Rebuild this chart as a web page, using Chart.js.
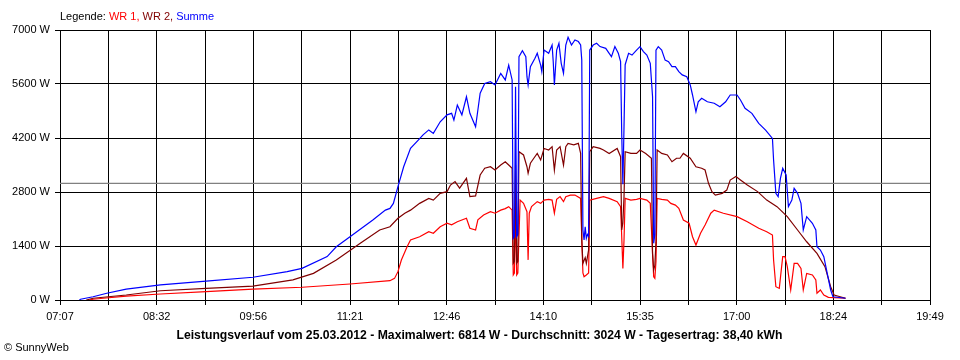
<!DOCTYPE html>
<html>
<head>
<meta charset="utf-8">
<script src="https://cdn.jsdelivr.net/npm/chart.js@4.4.0/dist/chart.umd.min.js"></script>
<style>
html,body{margin:0;padding:0;background:#fff;}
#wrap{width:960px;height:360px;position:relative;}
</style>
</head>
<body>
<div id="wrap"><canvas id="c" width="960" height="360"></canvas></div>
<script>
// ---- texts ----
const legendTitle = 'Legende: ';
const seriesNames = ['WR 1', 'WR 2', 'Summe'];
const chartTitle = 'Leistungsverlauf vom 25.03.2012 - Maximalwert: 6814 W - Durchschnitt: 3024 W - Tagesertrag: 38,40 kWh';
const copyrightText = '\u00A9 SunnyWeb';

// ---- axes ----
const xStart = '07:07';
const xEnd = '19:49';
const xGridCount = 18;           // grid lines, every second one labelled
const yTicks = [0, 1400, 2800, 4200, 5600, 7000];
const averageW = 3024;

// ---- Summe ----
const sumTimes = ['07:24','07:25','07:36','07:48','08:05','08:35','09:15','09:56','10:26','10:39','11:01','11:09','11:21','11:41','11:52','11:56','11:59','12:03','12:08','12:14','12:21','12:25','12:30','12:34','12:40','12:46','12:50','12:52','12:55','12:59','13:03','13:06','13:11','13:13','13:15','13:19','13:24','13:28','13:33','13:37','13:40','13:43','13:44','13:45','13:46','13:47','13:48','13:49','13:52','13:55','13:56','13:57','13:59','14:03','14:05','14:08','14:09','14:11','14:15','14:18','14:19','14:20','14:22','14:24','14:26','14:28','14:30','14:32','14:35','14:38','14:41','14:43','14:44','14:45','14:46','14:47','14:48','14:49','14:50','14:51','14:54','14:57','15:00','15:05','15:08','15:10','15:13','15:16','15:18','15:19','15:20','15:21','15:22','15:25','15:28','15:32','15:35','15:38','15:41','15:44','15:46','15:47','15:48','15:49','15:51','15:54','15:57','16:00','16:03','16:06','16:09','16:12','16:16','16:19','16:21','16:24','16:26','16:29','16:34','16:40','16:45','16:50','16:54','17:00','17:03','17:07','17:13','17:19','17:25','17:31','17:32','17:34','17:36','17:38','17:40','17:43','17:45','17:48','17:50','17:53','17:56','17:58','18:01','18:06','18:09','18:10','18:13','18:16','18:19','18:22','18:24','18:35'];
const sumWatts = [0,20,85,175,280,390,490,590,735,820,1125,1380,1640,2075,2330,2375,2505,2940,3455,3930,4150,4280,4410,4320,4620,4800,4840,4665,5055,4800,5270,4840,4490,4925,5360,5615,5660,5575,5875,5705,6090,5705,1600,1650,5530,1640,1700,6310,6465,6310,5790,5575,6050,6265,6395,6090,5920,6480,6395,6610,6180,5575,6480,6655,6135,5875,6610,6814,6610,6740,6700,6610,6220,1815,1555,1900,1600,1700,1650,6480,6610,6655,6570,6525,6395,6310,6570,6395,6180,4300,3000,4500,6100,6395,6350,6480,6570,6440,6350,6135,5270,1470,1700,6480,6570,6480,6220,6180,6050,6050,5920,5835,5790,5575,5315,4880,5140,5230,5140,5100,5010,5140,5315,5315,5185,4970,4840,4580,4405,4190,3630,2765,2680,3155,3415,3240,2420,2590,2895,2765,2505,1815,2160,1990,1815,1380,1295,1125,690,260,85,45];

// ---- WR 2 ----
const wr2Times = ['07:30','07:36','08:05','08:35','09:15','09:56','10:31','10:49','11:09','11:30','11:47','11:56','12:03','12:09','12:14','12:22','12:30','12:34','12:40','12:46','12:49','12:53','12:57','13:03','13:06','13:11','13:15','13:19','13:24','13:28','13:33','13:37','13:40','13:43','13:44','13:45','13:46','13:47','13:48','13:49','13:53','13:56','13:57','13:59','14:02','14:05','14:08','14:11','14:15','14:18','14:20','14:22','14:25','14:28','14:30','14:32','14:37','14:41','14:43','14:44','14:45','14:47','14:48','14:50','14:51','14:54','15:00','15:03','15:08','15:15','15:18','15:19','15:20','15:21','15:22','15:27','15:32','15:35','15:40','15:45','15:46','15:47','15:48','15:49','15:50','15:54','15:59','16:03','16:07','16:10','16:13','16:19','16:24','16:29','16:32','16:35','16:38','16:41','16:47','16:51','16:54','16:59','17:03','17:09','17:18','17:26','17:35','17:44','17:53','18:01','18:10','18:17','18:22','18:25','18:35'];
const wr2Watts = [0,45,130,240,300,360,520,690,1035,1470,1815,1900,2120,2250,2330,2505,2635,2590,2765,2810,2980,3070,2900,3155,2680,2700,3240,3415,3455,3370,3500,3585,3500,3415,950,1000,3500,950,1000,3845,3760,3455,3285,3545,3675,3800,3630,3930,3890,3975,3370,3890,3975,3500,3975,4060,4020,4060,3800,1555,950,1100,950,1300,3845,3975,3930,3890,3800,3930,3715,1815,2000,2680,3845,3800,3800,3890,3800,3675,1200,780,900,1500,3890,3800,3760,3585,3675,3675,3800,3675,3455,3415,3370,3025,2810,2720,2765,2850,3110,3200,3110,2980,2810,2590,2420,2160,1815,1510,1210,865,345,130,45];

// ---- WR 1 ----
const wr1Times = ['07:33','07:36','07:45','08:05','08:35','09:15','09:56','10:39','11:21','11:56','12:00','12:03','12:06','12:11','12:14','12:22','12:30','12:34','12:40','12:46','12:50','12:55','13:03','13:06','13:11','13:13','13:18','13:24','13:28','13:33','13:37','13:40','13:43','13:44','13:45','13:46','13:47','13:48','13:50','13:53','13:56','13:57','13:58','14:00','14:05','14:08','14:11','14:15','14:18','14:20','14:22','14:25','14:28','14:30','14:34','14:38','14:43','14:44','14:45','14:46','14:48','14:50','14:51','14:57','15:03','15:08','15:15','15:18','15:19','15:20','15:21','15:22','15:27','15:32','15:35','15:41','15:44','15:46','15:47','15:48','15:49','15:50','15:54','15:59','16:02','16:06','16:09','16:13','16:18','16:21','16:24','16:28','16:32','16:37','16:40','16:48','17:00','17:09','17:19','17:26','17:31','17:32','17:34','17:37','17:40','17:42','17:44','17:47','17:50','17:53','17:56','17:58','18:01','18:06','18:09','18:10','18:13','18:16','18:20','18:35'];
const wr1Watts = [0,20,45,100,155,215,280,330,415,500,560,735,1035,1380,1555,1640,1770,1730,1900,1990,1950,2030,2120,1860,1815,2080,2205,2290,2250,2330,2370,2420,2330,650,700,2400,650,700,2590,2505,2290,1040,2250,2420,2550,2505,2590,2610,2590,2250,2610,2680,2550,2680,2720,2720,2635,1600,700,605,650,700,2590,2635,2680,2635,2550,2420,1640,820,1555,2635,2590,2610,2635,2590,2505,1200,600,560,1000,2635,2610,2590,2505,2460,2375,2075,1990,1640,1425,1730,1945,2250,2330,2250,2160,2030,1860,1770,1685,1035,345,300,1125,1125,865,260,950,950,820,260,690,650,520,175,260,130,70,45];

// ---- helpers ----
const toMin = s => { const p = s.split(':').map(Number); return p[0] * 60 + p[1]; };
const fmt = v => { const r = Math.round(v); return String(Math.floor(r / 60)).padStart(2, '0') + ':' + String(r % 60).padStart(2, '0'); };
const pts = (t, w) => t.map((s, i) => ({ x: toMin(s), y: w[i] }));
const xMin = toMin(xStart), xMax = toMin(xEnd);
const FONT = '"Liberation Sans", Arial, sans-serif';

const textPlugin = {
  id: 'texts',
  afterDraw(chart) {
    const ctx = chart.ctx;
    ctx.save();
    ctx.textBaseline = 'middle';
    ctx.textAlign = 'left';
    ctx.font = '11px ' + FONT;
    let x = 60;
    const y = 17;
    const parts = [
      [legendTitle, '#000000'],
      [seriesNames[0] + ', ', '#ff0000'],
      [seriesNames[1] + ', ', '#800000'],
      [seriesNames[2], '#0000ff']
    ];
    parts.forEach(([t, c]) => { ctx.fillStyle = c; ctx.fillText(t, x, y); x += ctx.measureText(t).width; });
    ctx.fillStyle = '#000';
    ctx.font = 'bold 12.2px ' + FONT;
    ctx.textAlign = 'center';
    ctx.fillText(chartTitle, 479.5, 336);
    ctx.font = '11px ' + FONT;
    ctx.textAlign = 'left';
    ctx.fillText(copyrightText, 4, 348);
    ctx.restore();
  }
};

const lineDs = (label, data, color) => ({
  label, data, borderColor: color, backgroundColor: color, borderWidth: 1.2,
  pointRadius: 0, tension: 0, fill: false
});

new Chart(document.getElementById('c'), {
  type: 'line',
  data: {
    datasets: [
      lineDs(seriesNames[2], pts(sumTimes, sumWatts), '#0000ff'),
      lineDs(seriesNames[1], pts(wr2Times, wr2Watts), '#800000'),
      lineDs(seriesNames[0], pts(wr1Times, wr1Watts), '#ff0000'),
      lineDs('avg', [{ x: xMin, y: averageW }, { x: xMax, y: averageW }], '#808080')
    ]
  },
  options: {
    responsive: false,
    animation: false,
    devicePixelRatio: 1,
    layout: { padding: { top: 30, right: 30, left: 0, bottom: 0 } },
    plugins: { legend: { display: false }, tooltip: { enabled: false } },
    scales: {
      x: {
        type: 'linear', min: xMin, max: xMax,
        afterBuildTicks: s => { s.ticks = Array.from({ length: xGridCount + 1 }, (_, i) => ({ value: xMin + i * (xMax - xMin) / xGridCount })); },
        afterFit: s => { s.height = 60; },
        grid: { color: '#000', lineWidth: 1, tickLength: 5, drawTicks: true },
        border: { color: '#000', width: 1 },
        ticks: { autoSkip: false, maxRotation: 0, minRotation: 0, padding: 5, color: '#000',
          font: { family: FONT, size: 11 },
          callback: (v, i) => (i % 2 === 0 ? fmt(v) : '') }
      },
      y: {
        min: 0, max: 7000,
        afterBuildTicks: s => { s.ticks = yTicks.map(v => ({ value: v })); },
        afterFit: s => { s.width = 60; },
        grid: { color: '#000', lineWidth: 1, tickLength: 5, drawTicks: true },
        border: { color: '#000', width: 1 },
        ticks: { padding: 5, color: '#000', font: { family: FONT, size: 11 },
          callback: v => v + ' W' }
      }
    }
  },
  plugins: [textPlugin]
});
</script>
</body>
</html>
